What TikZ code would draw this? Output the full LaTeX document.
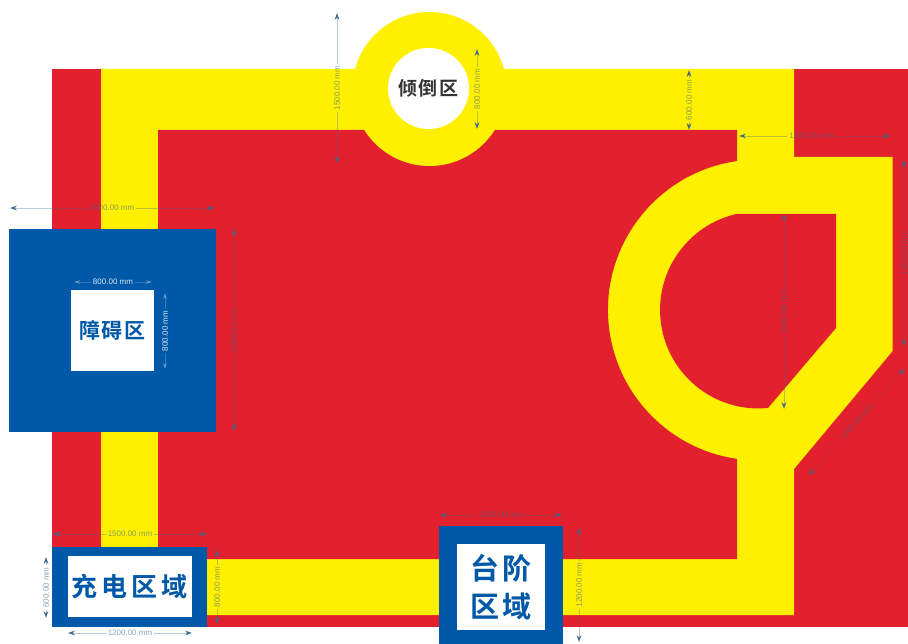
\documentclass[tikz,border=0pt]{standalone}
\usepackage{fontspec}
\setmainfont{Liberation Sans}
\newfontfamily\cjk[BoldFont=Noto Sans CJK SC Bold]{Noto Sans CJK SC}
\usetikzlibrary{arrows.meta}
\definecolor{field_red}{HTML}{E3202D}
\definecolor{track_yellow}{HTML}{FFF000}
\definecolor{zone_blue}{HTML}{0059A8}
\definecolor{dim_blue}{HTML}{3F6A8C}
\definecolor{dim_light}{HTML}{6F9CC8}
\definecolor{zone_dark}{HTML}{333333}

\begin{document}
\begin{tikzpicture}[x=1pt, y=-1pt,
        outer_box_style/.style={rectangle,fill=zone_blue,inner sep=0pt},
        inner_box_style/.style={rectangle,fill=white,inner sep=0pt,align=center,text=zone_blue,font=\cjk\bfseries},
        dim_style/.style={draw=dim_blue, line width=0.2pt, draw opacity=0.35, -{Stealth[length=7pt,width=5pt,fill=dim_blue]}},
        dim_light_style/.style={draw=dim_light, line width=0.2pt, draw opacity=0.5, -{Stealth[length=6pt,width=3.5pt,fill=dim_light]}},
        dim_label/.style={text=dim_blue,text opacity=0.6,font=\fontsize{8}{9}\selectfont,inner sep=2pt},
        dim_label_light/.style={text=white,text opacity=0.85,font=\fontsize{8}{9}\selectfont,inner sep=2pt}]

        \useasboundingbox (0,0) rectangle (908,644);
        \clip (0,0) rectangle (908,644);

        % field and track
        \fill [white] (0,0) rectangle (908,644);
        \fill [field_red] (52,69) rectangle (908,627);
        \fill [track_yellow] (101,69) -- (794,69) -- (794,157) -- (892.6,157) -- (892.6,351) -- (794,469) -- (794,615) -- (101,615) -- cycle;
        \fill [field_red] (158,130) -- (737,130) -- (737,161) arc[start angle=261.8, end angle=98.2, radius=150.5] -- (737,559) -- (158,559) -- cycle;
        \fill [field_red] (737,213.9) -- (836,213.9) -- (836,328) -- (768,408) arc[start angle=84.5, end angle=257.4, radius=98.5] -- cycle;

        % zones
        \node [circle,fill=track_yellow,inner sep=0pt,minimum size=154pt](tip_outer) at (429.5,89) {};
        \node [circle,fill=white,inner sep=0pt,minimum size=81pt,text=zone_dark,font=\cjk\bfseries\fontsize{19}{21}\selectfont](tip_inner) at (428.5,88.5) {倾\kern2pt 倒\kern2pt 区};

        \node [outer_box_style,minimum width=207pt,minimum height=203pt](block_outer) at (112.5,330.5) {};
        \node [inner_box_style,minimum width=83pt,minimum height=81pt,font=\cjk\bfseries\fontsize{21}{23}\selectfont](block_inner) at (112.5,330.5) {障\kern2pt 碍\kern2pt 区};

        \node [outer_box_style,minimum width=155pt,minimum height=80pt](charge_outer) at (129.5,587) {};
        \node [inner_box_style,minimum width=124.5pt,minimum height=61pt,font=\cjk\bfseries\fontsize{26}{28}\selectfont](charge_inner) at (129.8,586.5) {充\kern4pt 电\kern4pt 区\kern4pt 域};

        \node [outer_box_style,minimum width=124pt,minimum height=120pt](step_outer) at (501,586) {};
        \node [inner_box_style,minimum width=88pt,minimum height=86pt,font=\cjk\bfseries\fontsize{29}{38}\selectfont](step_inner) at (501,587) {台\kern4pt 阶\\区\kern4pt 域};

        % dimension end points
        \coordinate (a1) at (337,13);   \coordinate (a2) at (337,163);
        \coordinate (b1) at (477,49);   \coordinate (b2) at (477,129);
        \coordinate (c1) at (689,70);   \coordinate (c2) at (689,130);
        \coordinate (d1) at (739,136);  \coordinate (d2) at (890,136);
        \coordinate (e1) at (784,214);  \coordinate (e2) at (784,409);
        \coordinate (f1) at (904,160);  \coordinate (f2) at (904,346);
        \coordinate (g1) at (809,475);  \coordinate (g2) at (904,369);
        \coordinate (h1) at (10,208);   \coordinate (h2) at (214,208);
        \coordinate (i1) at (234,229);  \coordinate (i2) at (234,431);
        \coordinate (j1) at (74,282);   \coordinate (j2) at (152,282);
        \coordinate (k1) at (165,293);  \coordinate (k2) at (165,369);
        \coordinate (l1) at (53,534);   \coordinate (l2) at (207,534);
        \coordinate (m1) at (46,557);   \coordinate (m2) at (46,618);
        \coordinate (n1) at (68,633);   \coordinate (n2) at (192,633);
        \coordinate (o1) at (217,550);  \coordinate (o2) at (217,624);
        \coordinate (p1) at (440,515);  \coordinate (p2) at (562,515);
        \coordinate (q1) at (579,528);  \coordinate (q2) at (579,642);

        % dimensions
        \path (a1) -- node[dim_label,rotate=90](a){1500.00 mm} (a2);
        \draw [dim_style] (a) -- (a1);
        \draw [dim_style] (a) -- (a2);

        \path (b1) -- node[dim_label,rotate=90](b){800.00 mm} (b2);
        \draw [dim_style] (b) -- (b1);
        \draw [dim_style] (b) -- (b2);

        \path (c1) -- node[dim_label,rotate=90](c){600.00 mm} (c2);
        \draw [dim_style] (c) -- (c1);
        \draw [dim_style] (c) -- (c2);

        \path (d1) -- node[dim_label,xshift=-3pt](d){1500.00 mm} (d2);
        \draw [dim_style] (d) -- (d1);
        \draw [dim_style] (d) -- (d2);

        \path (e1) -- node[dim_label,rotate=90](e){2000.00 mm} (e2);
        \draw [dim_style] (e) -- (e1);
        \draw [dim_style] (e) -- (e2);

        \path (f1) -- node[dim_label,rotate=90](f){1800.00 mm} (f2);
        \draw [dim_style] (f) -- (f1);
        \draw [dim_style] (f) -- (f2);

        \path (g1) -- node[dim_label,rotate=48](g){1400.00 mm} (g2);
        \draw [dim_style] (g) -- (g1);
        \draw [dim_style] (g) -- (g2);

        \path (h1) -- node[dim_label](h){2000.00 mm} (h2);
        \draw [dim_style] (h) -- (h1);
        \draw [dim_style] (h) -- (h2);

        \path (i1) -- node[dim_label,rotate=90](i){2000.00 mm} (i2);
        \draw [dim_style] (i) -- (i1);
        \draw [dim_style] (i) -- (i2);

        \path (j1) -- node[dim_label_light](j){800.00 mm} (j2);
        \draw [dim_light_style] (j) -- (j1);
        \draw [dim_light_style] (j) -- (j2);

        \path (k1) -- node[dim_label_light,rotate=90](k){800.00 mm} (k2);
        \draw [dim_light_style] (k) -- (k1);
        \draw [dim_light_style] (k) -- (k2);

        \path (l1) -- node[dim_label](l){1500.00 mm} (l2);
        \draw [dim_style] (l) -- (l1);
        \draw [dim_style] (l) -- (l2);

        \path (m1) -- node[dim_label,rotate=90](m){600.00 mm} (m2);
        \draw [dim_style] (m) -- (m1);
        \draw [dim_style] (m) -- (m2);

        \path (n1) -- node[dim_label](n){1200.00 mm} (n2);
        \draw [dim_style] (n) -- (n1);
        \draw [dim_style] (n) -- (n2);

        \path (o1) -- node[dim_label,rotate=90](o){800.00 mm} (o2);
        \draw [dim_style] (o) -- (o1);
        \draw [dim_style] (o) -- (o2);

        \path (p1) -- node[dim_label](p){1200.00 mm} (p2);
        \draw [dim_style] (p) -- (p1);
        \draw [dim_style] (p) -- (p2);

        \path (q1) -- node[dim_label,rotate=90](q){1200.00 mm} (q2);
        \draw [dim_style] (q) -- (q1);
        \draw [dim_style] (q) -- (q2);

        \end{tikzpicture}
\end{document}
